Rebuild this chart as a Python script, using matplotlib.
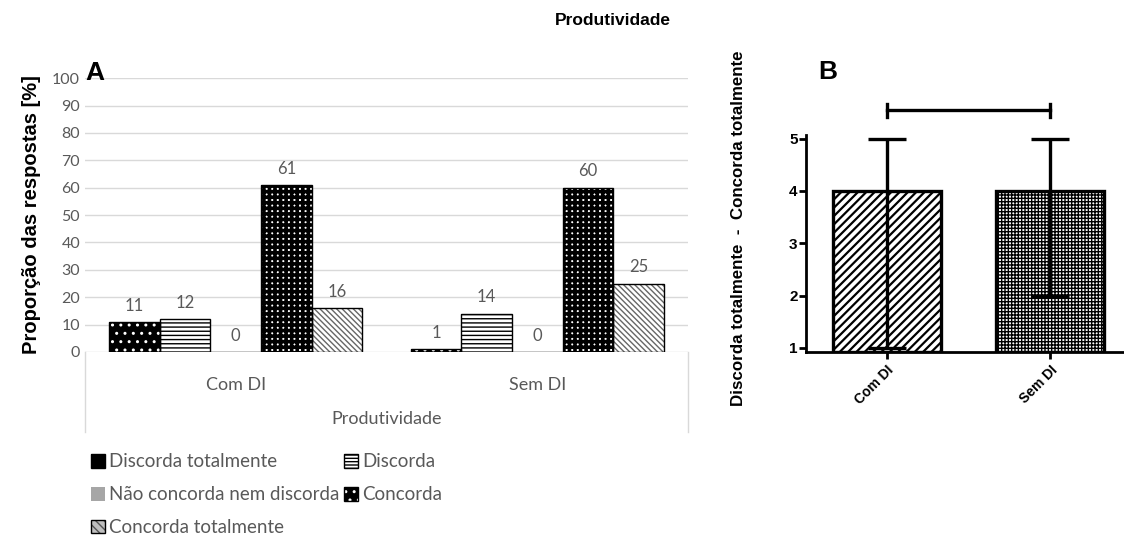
import numpy as np
import matplotlib
matplotlib.use('Agg')
import matplotlib.pyplot as plt
from matplotlib.lines import Line2D
from matplotlib.patches import Patch
from matplotlib.legend_handler import HandlerTuple

# dados do painel A
categorias = ['Com DI', 'Sem DI']
respostas = ['Discorda totalmente', 'Discorda', 'Não concorda nem discorda',
             'Concorda', 'Concorda totalmente']
disc_total = [11, 1]
discorda = [12, 14]
neutro = [0, 0]
concorda = [61, 60]
conc_total = [16, 25]

# dados do painel B (mediana e intervalo)
grupos_b = ['Com DI', 'Sem DI']
mediana_b = [4, 4]
min_b = [1, 2]
max_b = [5, 5]

cinza = '#595959'
plt.rcParams['hatch.linewidth'] = 1.0


def barra(ax, pos, alt, larg, fc, ht, hc, hlw=1.0, lw=1.0, bottom=0):
    with plt.rc_context({'hatch.linewidth': hlw}):
        b = ax.bar(pos, alt, larg, bottom=bottom, color=fc, hatch=ht,
                   edgecolor=hc, linewidth=0, zorder=2)
        for p in b:
            if hasattr(p, 'set_hatch_linewidth'):
                p.set_hatch_linewidth(hlw)
    ax.bar(pos, alt, larg, bottom=bottom, fill=False, edgecolor='black',
           linewidth=lw, zorder=3)


fig = plt.figure(figsize=(11.24, 5.39), dpi=100)

# ---------------- painel A ----------------
axA = fig.add_axes([0.0756, 0.347, 0.5365, 0.508])
series = [disc_total, discorda, neutro, concorda, conc_total]
# (face, hatch, cor do hatch, espessura)
estilos = [('black', '..', 'white', 1.0),
           ('white', '----', 'black', 1.0),
           ('#a6a6a6', '', '#a6a6a6', 1.0),
           ('white', '+++', 'black', 2.6),
           ('white', '\\\\\\\\\\\\', '#666666', 1.0)]
# estilos dos quadradinhos da legenda
estilos_leg = [('black', '', 'black', True),
               ('white', '-----', 'black', True),
               ('#a6a6a6', '', '#a6a6a6', False),
               ('black', '..', 'white', True),
               ('#bfbfbf', '\\\\\\\\', '#555555', True)]
x = np.arange(len(categorias))
w = 0.168
handles = []
for i, (vals, (fc, ht, hc, hlw)) in enumerate(zip(series, estilos)):
    pos = x + (i - 2) * w
    barra(axA, pos, vals, w, fc, ht, hc, hlw)
    for p, v in zip(pos, vals):
        axA.annotate(str(v), (p, v), xytext=(0, 6), textcoords='offset points',
                     ha='center', va='bottom', fontsize=12, color=cinza,
                     family='Lato')
    lfc, lht, lhc, borda = estilos_leg[i]
    h_fill = Patch(facecolor=lfc, hatch=lht, edgecolor=lhc, linewidth=0)
    if borda:
        h_out = Patch(fill=False, edgecolor='black', linewidth=1.0)
        handles.append((h_fill, h_out))
    else:
        handles.append(h_fill)

axA.set_xlim(-0.5, 1.5)
axA.set_ylim(0, 100)
axA.set_yticks(range(0, 101, 10))
axA.yaxis.grid(True, color='#d9d9d9', linewidth=1)
axA.set_axisbelow(True)
for s in axA.spines.values():
    s.set_visible(False)
axA.tick_params(axis='both', length=0, labelsize=11.5, labelcolor=cinza)
axA.tick_params(axis='x', pad=18, labelsize=13)
axA.set_xticks(x)
axA.set_xticklabels(categorias, family='Lato')
for t in axA.get_yticklabels():
    t.set_family('Lato')
axA.set_xlabel('Produtividade', fontsize=13, color=cinza, family='Lato', labelpad=13)
axA.set_ylabel('Proporção das respostas [%]', fontsize=14.5, fontweight='bold',
               family='Liberation Sans', labelpad=8)
axA.text(0.0, 1.02, 'A', transform=axA.transAxes, fontsize=19, fontweight='bold',
         family='Liberation Sans', va='center', ha='left')

# linhas da caixa da categoria
for xf in (0.0756, 0.612):
    fig.add_artist(Line2D([xf, xf], [0.347, 0.199], color='#d9d9d9', lw=1))

# ordem por colunas para ficar igual ao Excel
ordem = [0, 2, 4, 1, 3]
leg = fig.legend([handles[k] for k in ordem], [respostas[k] for k in ordem],
                 loc='upper left', bbox_to_anchor=(0.074, 0.173), ncol=2,
                 frameon=False, prop={'family': 'Lato', 'size': 13.5},
                 handlelength=0.75, handleheight=0.75, handletextpad=0.25,
                 columnspacing=0.2, labelspacing=0.85, borderaxespad=0,
                 handler_map={tuple: HandlerTuple(ndivide=1, pad=0)})
for t in leg.get_texts():
    t.set_color(cinza)

# ---------------- painel B ----------------
axB = fig.add_axes([0.717, 0.347, 0.283, 0.4025])
xb = np.arange(len(grupos_b))
estilos_b = [('white', '////', 'black', 1.6), ('white', '+++++', 'black', 1.0)]
for xi, m, (fc, ht, hc, hlw) in zip(xb, mediana_b, estilos_b):
    barra(axB, [xi], [m - 0.92], 0.66, fc, ht, hc, hlw, lw=2.4, bottom=0.92)
err = [np.array(mediana_b) - np.array(min_b), np.array(max_b) - np.array(mediana_b)]
axB.errorbar(xb, mediana_b, yerr=err, fmt='none', ecolor='black', elinewidth=2.4,
             capsize=14, capthick=2.4, zorder=4)

axB.set_xlim(-0.495, 1.45)
axB.set_ylim(0.92, 5.07)
axB.set_yticks([1, 2, 3, 4, 5])
axB.set_xticks(xb)
axB.set_xticklabels(grupos_b, rotation=45, ha='right', rotation_mode='anchor',
                    fontsize=10, fontweight='bold', family='Liberation Sans')
for t in axB.get_yticklabels():
    t.set_fontweight('bold')
    t.set_family('Liberation Sans')
axB.tick_params(axis='y', labelsize=11, width=2, length=5, pad=1)
axB.tick_params(axis='x', width=2, length=5, pad=3)
axB.spines['top'].set_visible(False)
axB.spines['right'].set_visible(False)
axB.spines['left'].set_linewidth(2)
axB.spines['bottom'].set_linewidth(2)
axB.set_ylabel('Discorda totalmente  -  Concorda totalmente', fontsize=12.2,
               fontweight='bold', family='Liberation Sans', labelpad=31, y=0.57)

# barra de comparação
axB.plot([0, 1], [5.54, 5.54], color='black', lw=2.4, clip_on=False)
for xi in (0, 1):
    axB.plot([xi, xi], [5.42, 5.66], color='black', lw=2.4, clip_on=False)
axB.text(-0.42, 6.28, 'B', fontsize=19, fontweight='bold', family='Liberation Sans',
         va='center', ha='left')

fig.suptitle('Produtividade', x=0.545, y=0.975, fontsize=12.5, fontweight='bold',
             family='Liberation Sans')

plt.savefig('out.png', dpi=100)
